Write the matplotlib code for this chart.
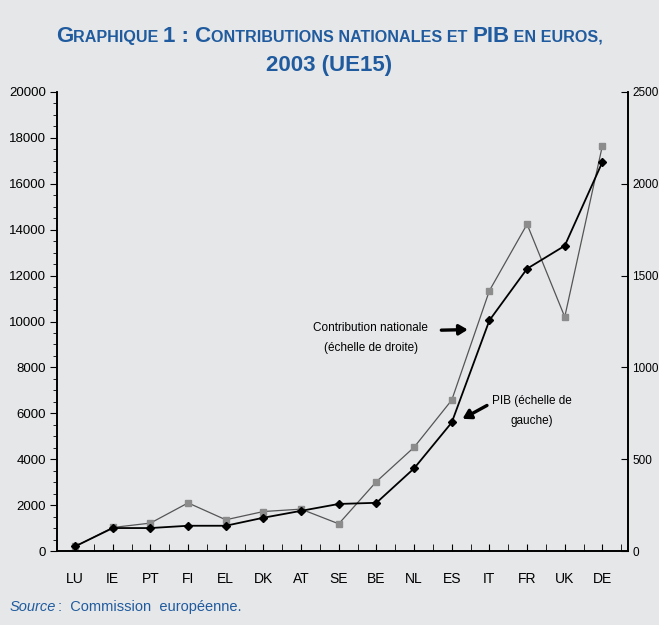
import matplotlib.pyplot as plt
from matplotlib.ticker import MultipleLocator

pays = ["LU", "IE", "PT", "FI", "EL", "DK", "AT", "SE", "BE", "NL", "ES", "IT", "FR", "UK", "DE"]
# PIB en euros (echelle de gauche)
pib = [200, 1000, 1000, 1100, 1100, 1450, 1750, 2050, 2100, 3600, 5600, 10050, 12300, 13300, 16950]
# Contribution nationale (echelle de droite)
contribution = [25, 128, 152, 262, 170, 215, 228, 148, 378, 565, 822, 1418, 1780, 1275, 2208]

fond = "#e6e7e9"
bleu = "#1f5b9e"
police = ["Liberation Sans", "DejaVu Sans"]
plt.rcParams['font.family'] = police

fig = plt.figure(figsize=(6.59, 6.25), dpi=100)
fig.patch.set_facecolor(fond)
ax = fig.add_axes([0.0865, 0.1184, 0.8665, 0.7344])
ax.set_facecolor(fond)
ax2 = ax.twinx()

x = list(range(len(pays)))
ax2.plot(x, contribution, color="#555555", linewidth=0.9, marker="s", markersize=5,
         markerfacecolor="#8c8c8c", markeredgecolor="#8c8c8c", zorder=2)
ax.plot(x, pib, color="black", linewidth=1.3, marker="D", markersize=4.5,
        markerfacecolor="black", markeredgecolor="black", zorder=3)
ax.set_zorder(ax2.get_zorder() + 1)
ax.patch.set_visible(False)

ax.set_xlim(-0.48, 14.68)
ax.set_ylim(0, 20000)
ax2.set_ylim(0, 2500)
ax.set_xticks(x)
ax.set_xticklabels(pays)
ax.xaxis.set_minor_locator(MultipleLocator(0.5))
ax.yaxis.set_major_locator(MultipleLocator(2000))
ax.yaxis.set_minor_locator(MultipleLocator(500))
ax2.yaxis.set_major_locator(MultipleLocator(500))

for a in (ax, ax2):
    a.spines['top'].set_visible(False)
    for s in a.spines.values():
        s.set_linewidth(1.2)
ax.tick_params(axis='x', direction='in', length=5, pad=15, labelsize=10)
ax.tick_params(axis='x', which='minor', direction='in', length=5)
ax.tick_params(axis='y', direction='out', length=5, labelsize=9.5, pad=3)
ax.tick_params(axis='y', which='minor', direction='out', length=3)
ax2.tick_params(axis='y', direction='in', length=5, labelsize=8.5, pad=3)

# annotations
fleche = dict(arrowstyle="-|>,head_length=0.5,head_width=0.3", color="black", lw=2.4)
ax.annotate("", xy=(10.5, 9650), xytext=(9.65, 9620), arrowprops=fleche)
ax.text(7.85, 9300, "Contribution nationale\n(échelle de droite)", ha="center", va="center",
        fontsize=8.5, linespacing=1.9)
ax.annotate("", xy=(10.22, 5700), xytext=(11.0, 6400), arrowprops=fleche)
ax.text(12.12, 6100, "PIB (échelle de\ngauche)", ha="center", va="center",
        fontsize=8.5, linespacing=1.9)

# titre en petites capitales
fig.canvas.draw()
rend = fig.canvas.get_renderer()

def petites_capitales(morceaux, y):
    objets = []
    for texte, taille in morceaux:
        t = fig.text(0, y, texte, fontsize=taille, color=bleu, fontweight="bold", va="baseline")
        objets.append(t)
    largeurs = [o.get_window_extent(rend).width for o in objets]
    total = sum(largeurs)
    xpos = (fig.bbox.width - total) / 2
    for o, w in zip(objets, largeurs):
        o.set_x(xpos / fig.bbox.width)
        xpos += w

petites_capitales([("G", 16), ("RAPHIQUE ", 11.6), ("1 : C", 16), ("ONTRIBUTIONS NATIONALES ET ", 11.6),
                   ("PIB", 16), (" EN EUROS,", 11.6)], 0.933)
petites_capitales([("2003 (UE15)", 16)], 0.886)

fig.text(0.015, 0.022, "Source", fontsize=10.5, color=bleu, style="italic")
fig.text(0.088, 0.022, ":  Commission  européenne.", fontsize=10.5, color=bleu)

fig.savefig("out.png", dpi=100, facecolor=fond)
